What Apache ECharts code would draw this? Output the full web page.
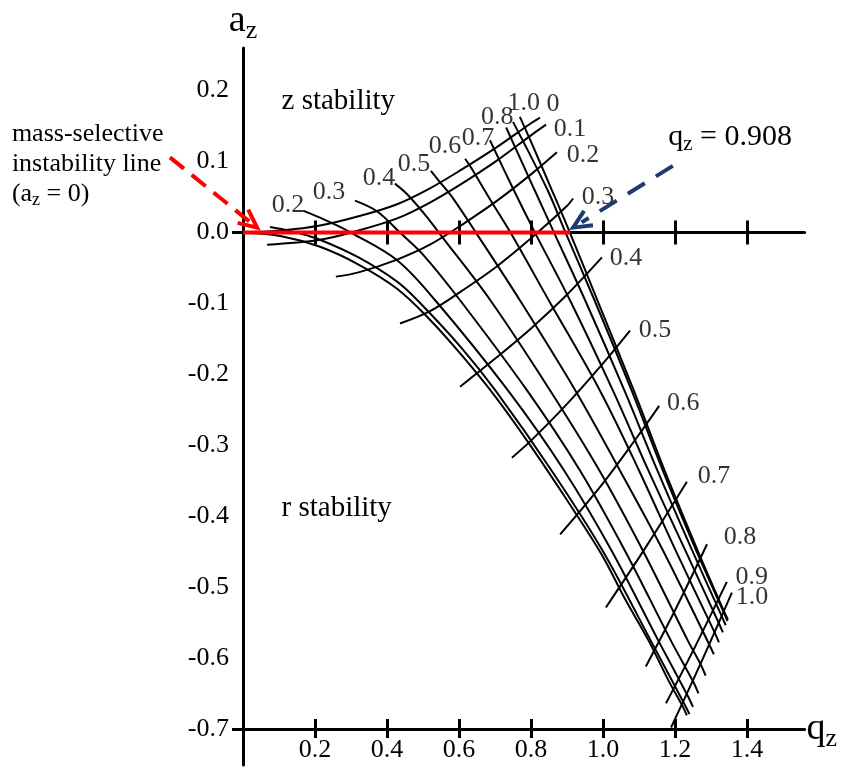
<!DOCTYPE html>
<html><head><meta charset="utf-8">
<script src="https://cdn.jsdelivr.net/npm/echarts@6/dist/echarts.min.js"></script>
<style>html,body{margin:0;padding:0;background:#fff}#c{width:842px;height:769px}</style>
</head><body><div id="c"></div>
<script>
// ---------- data (q_z, a_z) ----------
const qTicks = [0.2, 0.4, 0.6, 0.8, 1.0, 1.2, 1.4];
const aTicks = [-0.7, -0.6, -0.5, -0.4, -0.3, -0.2, -0.1, 0.0, 0.1, 0.2];

// iso-beta_r lines (ascending), beta_r = 0 ... 1.0
const betaRNames = ['0', '0.1', '0.2', '0.3', '0.4', '0.5', '0.6', '0.7', '0.8', '0.9', '1.0'];
const r00 = [[0,0],[0.107,0.003],[0.214,0.010],[0.321,0.023],[0.428,0.040],[0.518,0.062],[0.608,0.089],[0.704,0.120],[0.800,0.154],[0.825,0.162]];
const r01 = [[0.067,-0.017],[0.214,-0.010],[0.321,0.003],[0.428,0.020],[0.518,0.042],[0.608,0.069],[0.704,0.101],[0.800,0.137],[0.842,0.152]];
const r02 = [[0.258,-0.062],[0.321,-0.056],[0.428,-0.038],[0.519,-0.017],[0.608,0.011],[0.706,0.045],[0.800,0.082],[0.872,0.113]];
const r03 = [[0.436,-0.128],[0.518,-0.111],[0.608,-0.082],[0.704,-0.048],[0.800,-0.008],[0.899,0.037],[0.917,0.048]];
const r04 = [[0.603,-0.217],[0.704,-0.176],[0.800,-0.135],[0.899,-0.088],[0.997,-0.035]];
const r05 = [[0.747,-0.317],[0.800,-0.293],[0.899,-0.242],[0.997,-0.186],[1.075,-0.138]];
const r06 = [[0.881,-0.425],[0.997,-0.355],[1.092,-0.290],[1.156,-0.244]];
const r07 = [[1.008,-0.528],[1.119,-0.443],[1.233,-0.351]];
const r08 = [[1.119,-0.611],[1.203,-0.529],[1.289,-0.439]];
const r09 = [[1.175,-0.663],[1.258,-0.581],[1.344,-0.492]];
const r10 = [[1.189,-0.697],[1.272,-0.606],[1.358,-0.507]];

// iso-beta_z lines (descending), beta_z = 0 ... 1.0
const betaZNames = ['', '', '0.2', '0.3', '0.4', '0.5', '0.6', '0.7', '0.8', '', '1.0'];
const z00 = [[0,0],[0.107,-0.005],[0.214,-0.020],[0.321,-0.045],[0.428,-0.079],[0.518,-0.122],[0.608,-0.173],[0.704,-0.233],[0.800,-0.301],[0.899,-0.376],[0.997,-0.454],[1.059,-0.514],[1.127,-0.575],[1.182,-0.631],[1.222,-0.668],[1.233,-0.680]];
const z01 = [[0.075,0.008],[0.107,0.005],[0.150,0],[0.214,-0.010],[0.321,-0.035],[0.428,-0.069],[0.486,-0.096],[0.608,-0.163],[0.702,-0.223],[0.857,-0.335],[0.999,-0.448],[1.133,-0.575],[1.226,-0.664],[1.240,-0.678]];
const z02 = [[0.167,0.031],[0.214,0.021],[0.258,0.011],[0.300,0],[0.428,-0.039],[0.535,-0.096],[0.737,-0.223],[0.892,-0.335],[1.024,-0.448],[1.154,-0.575],[1.236,-0.653],[1.250,-0.668]];
const z03 = [[0.311,0.045],[0.372,0.030],[0.436,0],[0.500,-0.031],[0.604,-0.096],[0.790,-0.223],[0.936,-0.335],[1.061,-0.448],[1.189,-0.575],[1.251,-0.633],[1.265,-0.649]];
const z04 = [[0.422,0.069],[0.456,0.054],[0.506,0.025],[0.544,0],[0.688,-0.096],[0.854,-0.223],[0.990,-0.335],[1.111,-0.448],[1.236,-0.575],[1.271,-0.608],[1.285,-0.624]];
const z05 = [[0.522,0.087],[0.544,0.073],[0.581,0.050],[0.647,0],[0.770,-0.096],[0.924,-0.223],[1.047,-0.335],[1.167,-0.448],[1.294,-0.579],[1.308,-0.594]];
const z06 = [[0.617,0.104],[0.633,0.092],[0.686,0.047],[0.743,0],[0.850,-0.096],[0.992,-0.223],[1.100,-0.335],[1.202,-0.448],[1.308,-0.561],[1.322,-0.577]];
const z07 = [[0.686,0.130],[0.751,0.061],[0.811,0],[0.909,-0.096],[1.028,-0.223],[1.126,-0.335],[1.229,-0.448],[1.319,-0.547],[1.333,-0.563]];
const z08 = [[0.731,0.148],[0.809,0.061],[0.864,0],[0.951,-0.096],[1.060,-0.223],[1.151,-0.335],[1.248,-0.448],[1.327,-0.537],[1.341,-0.553]];
const z09 = [[0.750,0.156],[0.845,0.061],[0.896,0],[0.977,-0.096],[1.080,-0.223],[1.166,-0.335],[1.259,-0.448],[1.332,-0.531],[1.346,-0.547]];
const z10 = [[0.769,0.163],[0.800,0.128],[0.857,0.061],[0.908,0],[0.985,-0.096],[1.086,-0.223],[1.171,-0.335],[1.263,-0.448],[1.333,-0.530],[1.347,-0.545]];

// mass-selective instability line a_z = 0, up to q_z = 0.908
const instabilityLine = [[0, 0], [0.908, 0]];

// annotation anchors (data units)
const redArrow = [[-0.203, 0.106], [0.039, 0.007]];
const blueArrow = [[1.194, 0.094], [0.917, 0.007]];
const zStabilityAt = [0.107, 0.1845];
const rStabilityAt = [0.107, -0.389];
const qLabelAt = [1.181, 0.134];
const leftNoteAt = [-0.642, 0.160];

// ---------- styling ----------
const FONT = '"Liberation Serif","Times New Roman",serif';
const rLines = [r00, r01, r02, r03, r04, r05, r06, r07, r08, r09, r10];
const zLines = [z00, z01, z02, z03, z04, z05, z06, z07, z08, z09, z10];
// pixel offsets of the value labels from the line ends (label centre)
const rLabelOffset = [[13,-13],[24,4],[26,3],[25,-1],[24,1],[25,0],[24,-3],[27,-6],[33,-7],[25,-5],[20,5]];
const zLabelOffset = [[0,0],[0,0],[-15,-5],[-26,-8],[-16,-5],[-17,-7],[-20,-13],[-12,-2],[-9,-10],[0,0],[4,-14]];

const chart = echarts.init(document.getElementById('c'));
const QMAX = 1.56, AMIN = -0.75, AMAX = 0.26;
const tickStyle = {color: '#000', width: 3};

function xAx(extra) {
  return Object.assign({
    type: 'value', min: 0, max: QMAX, position: 'bottom',
    splitLine: {show: false}, axisLabel: {show: false}, axisTick: {show: false},
    axisLine: {show: false, onZero: false}
  }, extra);
}

const series = [];
rLines.forEach(d => series.push({
  type: 'line', data: d, symbol: 'none', smooth: 0.35, silent: true,
  lineStyle: {color: '#000', width: 2}, z: 2
}));
zLines.forEach(d => series.push({
  type: 'line', data: d, symbol: 'none', smooth: 0.35, silent: true,
  lineStyle: {color: '#000', width: 2}, z: 2
}));
series.push({
  type: 'line', data: instabilityLine, symbol: 'none', silent: true,
  lineStyle: {color: '#ff0000', width: 4}, z: 5
});
const labelItems = [];
rLines.forEach((d, i) => labelItems.push({
  value: d[d.length - 1],
  label: {formatter: betaRNames[i], offset: rLabelOffset[i]}
}));
zLines.forEach((d, i) => { if (betaZNames[i]) labelItems.push({
  value: d[0],
  label: {formatter: betaZNames[i], offset: zLabelOffset[i]}
}); });
series.push({
  type: 'scatter', data: labelItems, symbolSize: 1, silent: true, z: 6,
  itemStyle: {color: 'rgba(0,0,0,0)'},
  label: {show: true, position: 'inside', fontSize: 26, fontFamily: FONT, color: '#000'}
});

chart.setOption({
  animation: false,
  backgroundColor: '#fff',
  grid: {left: 243, right: 37.4, top: 48, bottom: 3.9, containLabel: false, outerBoundsMode: 'none'},
  xAxis: [
    xAx({
      offset: -36,
      axisLine: {show: true, onZero: false, lineStyle: tickStyle},
      axisTick: {show: true, inside: true, length: 10, customValues: qTicks, lineStyle: tickStyle},
      axisLabel: {show: true, customValues: qTicks, margin: 8, formatter: v => v.toFixed(1),
                  fontSize: 26, fontFamily: FONT, color: '#000'},
      name: '{q|q}{s|z}', nameLocation: 'end', nameGap: 2,
      nameTextStyle: {rich: {
        q: {fontSize: 38, fontFamily: FONT, color: '#000', lineHeight: 46},
        s: {fontSize: 26, fontFamily: FONT, color: '#000', lineHeight: 46, verticalAlign: 'bottom'}
      }}
    }),
    xAx({offset: -36, axisTick: {show: true, inside: false, length: 9, customValues: qTicks, lineStyle: tickStyle}}),
    xAx({
      axisLine: {show: true, onZero: true, onZeroAxisIndex: 0, lineStyle: tickStyle},
      axisTick: {show: true, inside: true, length: 12, customValues: qTicks, lineStyle: tickStyle}
    }),
    xAx({
      axisLine: {show: false, onZero: true, onZeroAxisIndex: 0},
      axisTick: {show: true, inside: false, length: 12, customValues: qTicks, lineStyle: tickStyle}
    })
  ],
  yAxis: {
    type: 'value', min: AMIN, max: AMAX, position: 'left',
    splitLine: {show: false},
    axisLine: {show: true, onZero: false, lineStyle: tickStyle},
    axisTick: {show: true, customValues: [0, -0.7], length: 11, lineStyle: tickStyle},
    axisLabel: {customValues: aTicks, margin: 14, formatter: v => v.toFixed(1),
                fontSize: 26, fontFamily: FONT, color: '#000'},
    name: '{a|a}{s|z}', nameLocation: 'end', nameGap: 4,
    nameTextStyle: {rich: {
      a: {fontSize: 38, fontFamily: FONT, color: '#000', lineHeight: 46},
      s: {fontSize: 26, fontFamily: FONT, color: '#000', lineHeight: 46, verticalAlign: 'bottom'}
    }}
  },
  series: series
});

// ---------- annotations positioned through the axes ----------
const toPx = p => chart.convertToPixel({xAxisIndex: 0, yAxisIndex: 0}, p);
function arrow(seg, color, dash) {
  const P = toPx(seg[0]), T = toPx(seg[1]);
  const dx = T[0] - P[0], dy = T[1] - P[1], L = Math.hypot(dx, dy);
  const ux = dx / L, uy = dy / L, h = 20, g = 25 * Math.PI / 180;
  const c = Math.cos(g), s = Math.sin(g);
  const a1 = [T[0] - h * (ux * c - uy * s), T[1] - h * (uy * c + ux * s)];
  const a2 = [T[0] - h * (ux * c + uy * s), T[1] - h * (uy * c - ux * s)];
  return [
    {type: 'line', z: 10, shape: {x1: P[0], y1: P[1], x2: T[0] - ux * 10, y2: T[1] - uy * 10},
     style: {stroke: color, lineWidth: 4, lineDash: dash}},
    {type: 'polyline', z: 10, shape: {points: [a1, T, a2]},
     style: {stroke: color, lineWidth: 4, fill: null}}
  ];
}
function text(at, txt, rich, align, vAlign, lh) {
  const p = toPx(at);
  return {type: 'text', z: 10, x: p[0], y: p[1],
    style: {text: txt, rich: rich, align: align, verticalAlign: vAlign,
            fontSize: 26, fontFamily: FONT, fill: '#000', lineHeight: lh || 30}};
}
const richT = {
  t: {fontSize: 26, fontFamily: FONT, color: '#000', lineHeight: 30},
  s: {fontSize: 18, fontFamily: FONT, color: '#000', lineHeight: 30, verticalAlign: 'bottom'},
  big: {fontSize: 29, fontFamily: FONT, color: '#000', lineHeight: 34},
  q: {fontSize: 30, fontFamily: FONT, color: '#000', lineHeight: 36},
  qs: {fontSize: 21, fontFamily: FONT, color: '#000', lineHeight: 36, verticalAlign: 'bottom'}
};
chart.setOption({graphic: [
  ...arrow(redArrow, '#ff0000', [18, 10]),
  ...arrow(blueArrow, '#1f3a73', [20, 13]),
  text(zStabilityAt, '{big|z stability}', richT, 'left', 'middle'),
  text(rStabilityAt, '{big|r stability}', richT, 'left', 'middle'),
  text(qLabelAt, '{q|q}{qs|z}{q| = 0.908}', richT, 'left', 'middle'),
  text(leftNoteAt, '{t|mass-selective}\n{t|instability line}\n{t|(a}{s|z}{t| = 0)}', richT, 'left', 'top')
]});
</script></body></html>
